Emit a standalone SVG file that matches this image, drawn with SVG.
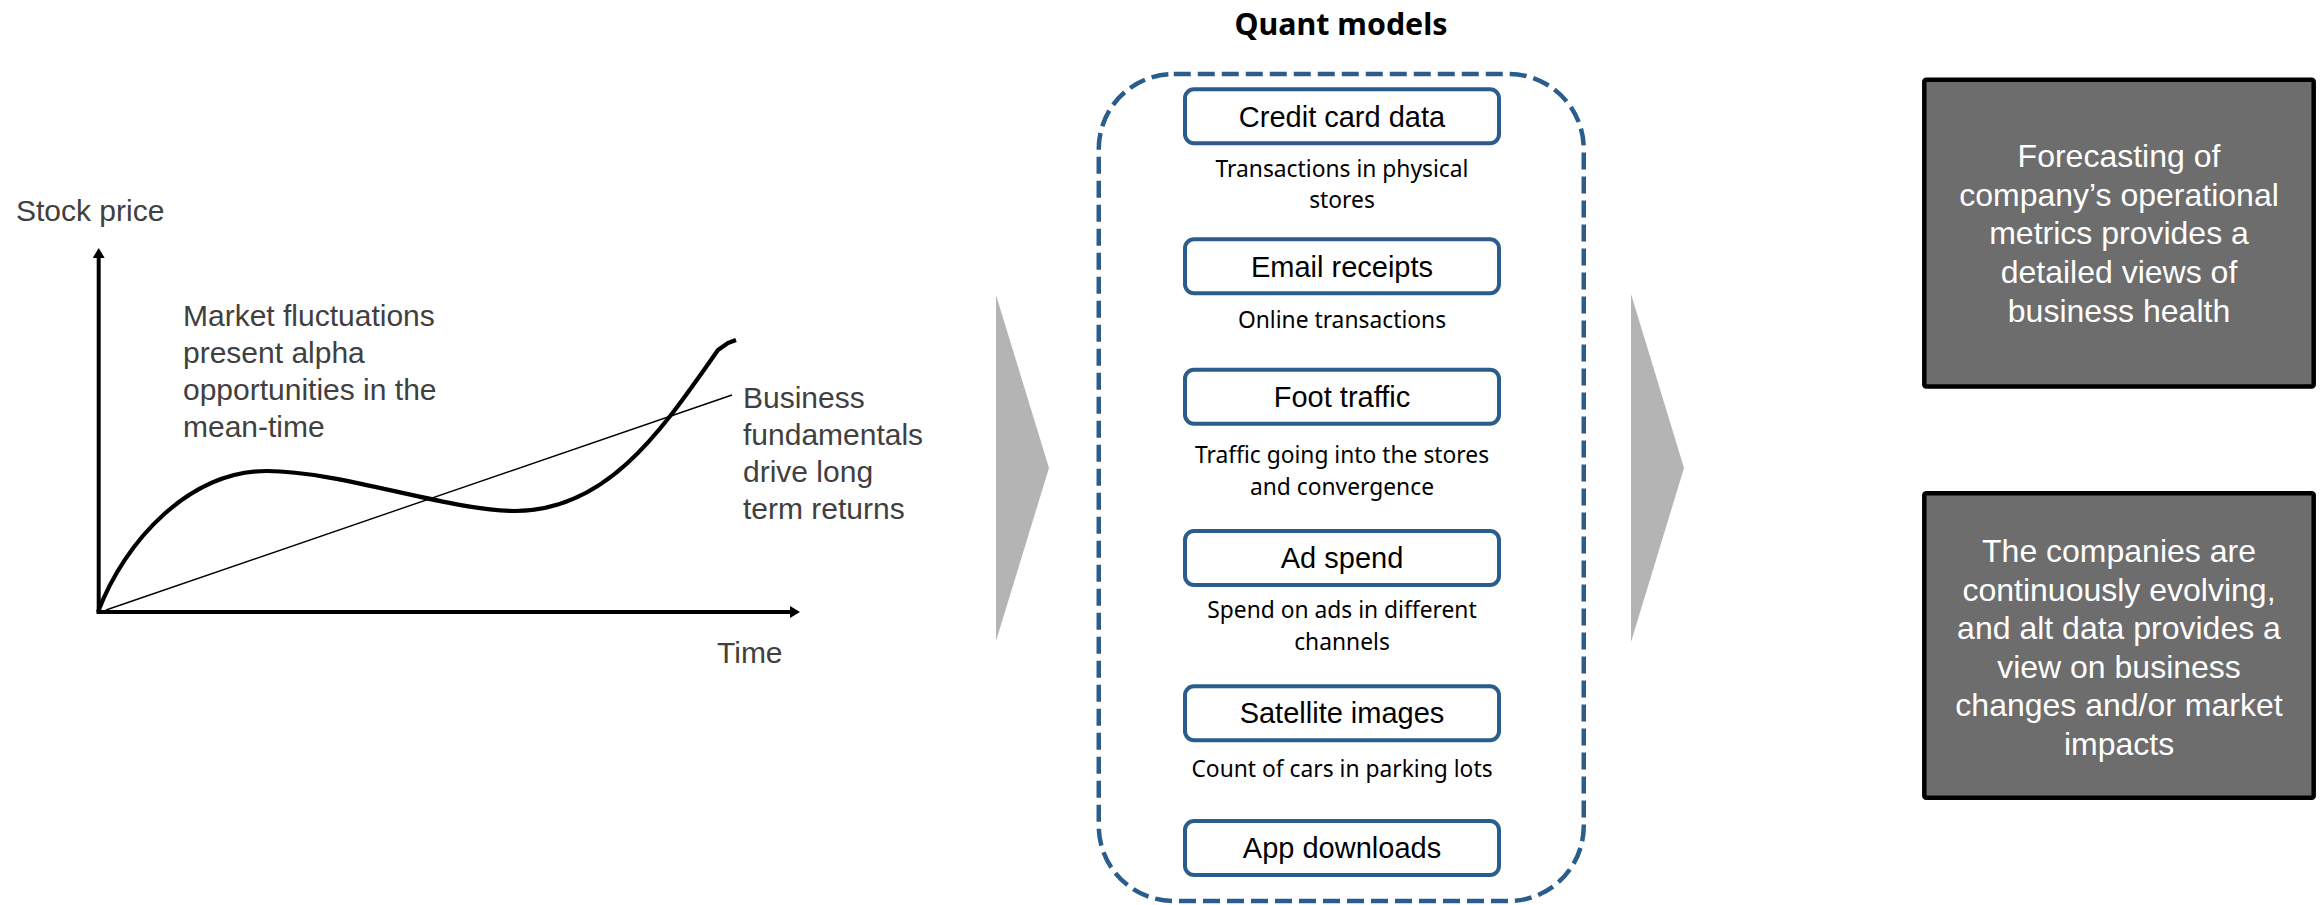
<svg xmlns="http://www.w3.org/2000/svg" width="2323" height="905" viewBox="0 0 2323 905">
  <defs>
    <style>
      .lbl { font-family: "Liberation Sans", Arial, sans-serif; font-size: 30px; fill: #404040; }
      .ttl { font-family: "Noto Sans", "Open Sans", sans-serif; font-size: 30.4px; font-weight: bold; fill: #000; text-anchor: middle; }
      .src { fill: #fff; stroke: #2A5D8C; stroke-width: 4; }
      .srct { font-family: "Liberation Sans", Arial, sans-serif; font-size: 29px; fill: #000; text-anchor: middle; }
      .sub { font-family: "Noto Sans", "Open Sans", sans-serif; font-size: 22.8px; fill: #000; text-anchor: middle; }
      .out { fill: #6D6D6D; stroke: #000; stroke-width: 4.5; }
      .outt { font-family: "Liberation Sans", Arial, sans-serif; font-size: 32px; fill: #fff; text-anchor: middle; }
      .chev { fill: #B4B4B4; }
      .axis { stroke: #000; stroke-width: 4; fill: none; }
    </style>
    <marker id="ah" markerUnits="userSpaceOnUse" markerWidth="10" markerHeight="12" refX="0" refY="6" orient="auto">
      <path d="M0,0 L10,6 L0,12 Z" fill="#000"/>
    </marker>
  </defs>
  <rect width="2323" height="905" fill="#fff"/>

  <g id="chart">
    <text class="lbl" x="16" y="221">Stock price</text>
    <line class="axis" x1="98.7" y1="614" x2="98.7" y2="258" marker-end="url(#ah)"/>
    <line class="axis" x1="96.7" y1="612" x2="790" y2="612" marker-end="url(#ah)"/>
    <text class="lbl" x="717" y="663">Time</text>
    <line x1="106" y1="610" x2="732" y2="395" stroke="#000" stroke-width="1.4"/>
    <path d="M98,612 C125,540 190,471 267,471 C340,471 450,511 515,511 C610,511 665,425 718,350 L728,343 L736,340" fill="none" stroke="#000" stroke-width="4.2" stroke-linejoin="round"/>
    <text class="lbl" x="183" y="326">Market fluctuations</text>
    <text class="lbl" x="183" y="363">present alpha</text>
    <text class="lbl" x="183" y="400">opportunities in the</text>
    <text class="lbl" x="183" y="437">mean-time</text>
    <text class="lbl" x="743" y="407.5">Business</text>
    <text class="lbl" x="743" y="444.5">fundamentals</text>
    <text class="lbl" x="743" y="481.5">drive long</text>
    <text class="lbl" x="743" y="518.5">term returns</text>
  </g>

  <g id="quant-models">
    <text class="ttl" x="1341" y="35">Quant models</text>
    <rect x="1098.75" y="74" width="485" height="827" rx="75" ry="75" fill="none" stroke="#2A5D8C" stroke-width="4.5" stroke-dasharray="17 7"/>
  </g>

  <g id="credit-card-data">
    <rect class="src" x="1185" y="89.3" width="314" height="54" rx="9"/>
    <text class="srct" x="1342" y="126.7">Credit card data</text>
    <text class="sub" x="1342" y="176.7">Transactions in physical</text>
    <text class="sub" x="1342" y="208.3">stores</text>
  </g>
  <g id="email-receipts">
    <rect class="src" x="1185" y="239.3" width="314" height="54" rx="9"/>
    <text class="srct" x="1342" y="276.7">Email receipts</text>
    <text class="sub" x="1342" y="328.3">Online transactions</text>
  </g>
  <g id="foot-traffic">
    <rect class="src" x="1185" y="369.7" width="314" height="54" rx="9"/>
    <text class="srct" x="1342" y="406.7">Foot traffic</text>
    <text class="sub" x="1342" y="463.3">Traffic going into the stores</text>
    <text class="sub" x="1342" y="495">and convergence</text>
  </g>
  <g id="ad-spend">
    <rect class="src" x="1185" y="531" width="314" height="54" rx="9"/>
    <text class="srct" x="1342" y="568.3">Ad spend</text>
    <text class="sub" x="1342" y="618.3">Spend on ads in different</text>
    <text class="sub" x="1342" y="650">channels</text>
  </g>
  <g id="satellite-images">
    <rect class="src" x="1185" y="686.3" width="314" height="54" rx="9"/>
    <text class="srct" x="1342" y="723.3">Satellite images</text>
    <text class="sub" x="1342" y="777.3">Count of cars in parking lots</text>
  </g>
  <g id="app-downloads">
    <rect class="src" x="1185" y="821" width="314" height="54" rx="9"/>
    <text class="srct" x="1342" y="858.3">App downloads</text>
  </g>

  <g id="forecasting">
    <rect class="out" x="1924.3" y="79.8" width="389.4" height="306.7" rx="2"/>
    <text class="outt" x="2119" y="167">Forecasting of</text>
    <text class="outt" x="2119" y="205.7">company’s operational</text>
    <text class="outt" x="2119" y="244.4">metrics provides a</text>
    <text class="outt" x="2119" y="283.1">detailed views of</text>
    <text class="outt" x="2119" y="321.8">business health</text>
  </g>
  <g id="evolving">
    <rect class="out" x="1924.3" y="493.3" width="389.4" height="304.4" rx="2"/>
    <text class="outt" x="2119" y="562">The companies are</text>
    <text class="outt" x="2119" y="600.5">continuously evolving,</text>
    <text class="outt" x="2119" y="639">and alt data provides a</text>
    <text class="outt" x="2119" y="677.5">view on business</text>
    <text class="outt" x="2119" y="716">changes and/or market</text>
    <text class="outt" x="2119" y="754.5">impacts</text>
  </g>

  <g id="connectors">
    <polygon class="chev" points="996,295 1049,468 996,641"/>
    <polygon class="chev" points="1631,294 1684,468 1631,642"/>
  </g>
</svg>
